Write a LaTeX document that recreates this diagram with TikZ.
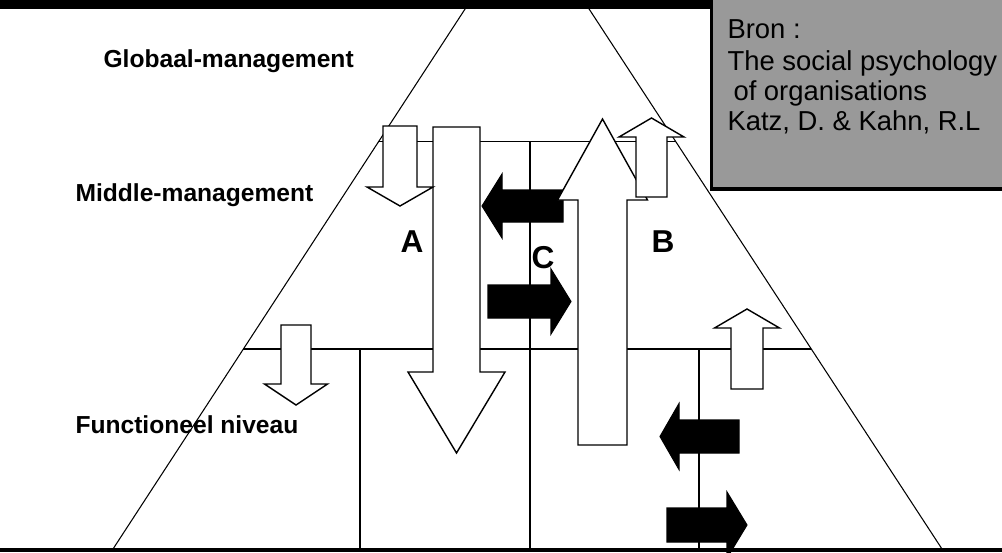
\documentclass[tikz,border=0pt]{standalone}
\usepackage{fontspec}
\setmainfont{Liberation Sans}
\usetikzlibrary{calc}

% vertical block arrow: style, x centre, half shaft, half head, tail y, head base y, tip y
\newcommand{\vblock}[7]{%
  \draw[#1] (#2-#3,#5) -- (#2-#3,#6) -- (#2-#4,#6) -- (#2,#7) -- (#2+#4,#6)
    -- (#2+#3,#6) -- (#2+#3,#5) -- cycle;}
% horizontal block arrow: style, y centre, half shaft, half head, tail x, head base x, tip x
\newcommand{\hblock}[7]{%
  \draw[#1] (#5,#2-#3) -- (#6,#2-#3) -- (#6,#2-#4) -- (#7,#2) -- (#6,#2+#4)
    -- (#6,#2+#3) -- (#5,#2+#3) -- cycle;}

\tikzset{
  whitearrow/.style={draw=black, fill=white, line width=0.8pt},
  blackarrow/.style={draw=black, fill=black, line width=0.6pt},
  levellabel/.style={anchor=base west, inner sep=0pt, font=\fontsize{14}{16}\selectfont\bfseries},
  letterlabel/.style={anchor=base, inner sep=0pt, font=\fontsize{18}{21}\selectfont\bfseries},
  srctext/.style={anchor=base west, inner sep=0pt, font=\fontsize{15.6}{17}\selectfont}
}

\begin{document}
\begin{tikzpicture}[x=0.2mm, y=-0.2mm, line width=0.6pt]
  \useasboundingbox (0,0) rectangle (1002,552);

  % Pyramid
  \coordinate (top) at (527,-86);
  \coordinate (bl) at (113,549);
  \coordinate (br) at (942,549);
  \draw (bl) -- (top) -- (br);

  % Levels
  \draw ($(bl)!0.641!(top)$) -- ($(br)!0.641!(top)$);
  \draw ($(bl)!0.315!(top)$) -- ($(br)!0.315!(top)$);
  \draw (530,142) -- (530,549);
  \draw (360,349) -- (360,549);
  \draw (699,349) -- (699,549);

  % Arrows
  \hblock{blackarrow}{206}{16}{32}{563}{502}{482}
  \hblock{blackarrow}{301.5}{16.5}{32.5}{488}{551}{571}
  \hblock{blackarrow}{436.5}{16.5}{33}{739}{679}{660}
  \hblock{blackarrow}{525}{17}{33}{667}{727}{747}
  \vblock{whitearrow}{456.5}{23.5}{48.5}{127}{372}{453}
  \vblock{whitearrow}{400}{17}{33}{126}{187}{206}
  \vblock{whitearrow}{602.5}{24.5}{45}{445}{200}{119}
  \vblock{whitearrow}{651.5}{15.5}{32.5}{197}{137}{118}
  \vblock{whitearrow}{296}{15}{31.5}{325}{384}{405}
  \vblock{whitearrow}{747}{16}{32.5}{389}{328}{309}

  \node[letterlabel] (A) at (412,252) {A};
  \node[letterlabel] (B) at (663,252) {B};
  \node[letterlabel] (C) at (543,268) {C};

  \node[levellabel] (global) at (103,67) {Globaal-management};
  \node[levellabel] (middle) at (75,201) {Middle-management};
  \node[levellabel] (func) at (75,433) {Functioneel niveau};

  % Title bar and source box
  \fill (0,0) rectangle (712,9);
  \fill[black!40] (712,0) rectangle (1002,188);
  \draw[line width=2.2pt] (711.5,0) -- (711.5,189) -- (1002,189);
  \node[srctext] (bron) at (727,38) {Bron :};
  \node[srctext] (title) at (727,70) {The social psychology};
  \node[srctext] (title2) at (733,100) {of organisations};
  \node[srctext] (authors) at (727,130) {Katz, D. \& Kahn, R.L};

  \draw[line width=1.8pt] (0,550) -- (1002,550);
\end{tikzpicture}
\end{document}
